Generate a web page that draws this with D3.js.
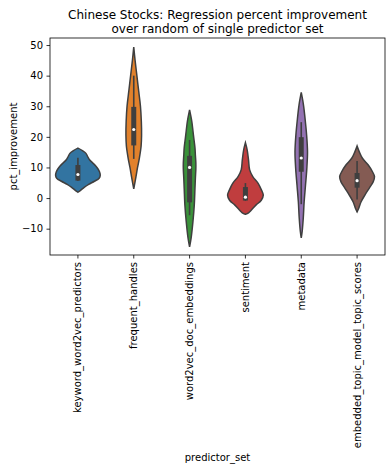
<!DOCTYPE html>
<head>
    <meta charset="utf-8">
    <title>Chinese Stocks violin</title>
    <style>
        body { margin: 0; background: #fff; }
        text { font-family: "DejaVu Sans", sans-serif; }
    </style>
</head>
<body>

<svg width="392" height="470"></svg>

<script src="https://cdn.jsdelivr.net/npm/d3@7"></script>
<script>

    var categories = ["keyword_word2vec_predictors", "frequent_handles", "word2vec_doc_embeddings",
                      "sentiment", "metadata", "embedded_topic_model_topic_scores"];

    var colors = ["#3274a1", "#e1812c", "#3a923a", "#c03d3e", "#9372b2", "#845b53"];

    // density outline per category: [pct_improvement, relative half width]
    var profKeyword = [[16.3,0],[15.5,0.2],[14.6,0.36],[13.5,0.44],[12.5,0.52],[11.5,0.66],[10.5,0.8],
                       [9.5,0.9],[8.5,0.97],[7.5,1],[6.5,0.95],[5.5,0.74],[4.5,0.48],[3.5,0.28],[2.6,0.13],[1.9,0]];
    var profHandles = [[49.3,0],[45,0.06],[40,0.14],[35,0.22],[30,0.3],[25,0.34],[20.5,0.35],[17,0.33],
                       [13,0.25],[10,0.17],[7,0.1],[3,0]];
    var profDocEmb  = [[28.8,0],[25,0.1],[22,0.15],[19.5,0.19],[16.5,0.24],[14,0.26],[11.5,0.28],[9.5,0.28],
                       [6.5,0.26],[3,0.24],[-2.3,0.21],[-7.7,0.15],[-13,0.07],[-15.9,0]];
    var profSentiment = [[18.1,0],[15.7,0.08],[12.4,0.14],[9.2,0.19],[7,0.33],[4.8,0.57],[2.6,0.72],[1,0.8],
                         [-0.7,0.71],[-2.3,0.47],[-3.9,0.27],[-4.8,0.14],[-5.3,0]];
    var profMetadata = [[34.5,0],[30.4,0.1],[26,0.17],[20.6,0.24],[15.1,0.28],[9.7,0.25],[4.2,0.19],
                        [-1.2,0.13],[-6.6,0.09],[-11,0.04],[-13,0]];
    var profTopic = [[17,0],[15.1,0.1],[13,0.24],[10.8,0.5],[8.6,0.69],[7,0.78],[5.3,0.72],[3.2,0.54],
                     [1,0.35],[-1.2,0.18],[-3.4,0.07],[-4.5,0]];

    var profiles = [profKeyword, profHandles, profDocEmb, profSentiment, profMetadata, profTopic];

    // inner box: whisker low, q1, median, q3, whisker high
    var whiskLow  = [5.6, 12.8, -5.6, -0.9, -2, -0.5];
    var q1        = [5.7, 17.2, -1.4, -0.8, 8.6, 3.4];
    var medians   = [7.7, 22.4, 10, 0.3, 13.1, 5.7];
    var q3        = [10.8, 29.8, 13.8, 3.6, 19.9, 8.2];
    var whiskHigh = [13.2, 40, 19, 4.9, 24.8, 12.1];

    var yTicks = [-10, 0, 10, 20, 30, 40, 50];

    var svg = d3.select("svg"),
        margin = {top: 38, right: 7, bottom: 215, left: 50},
        width = +svg.attr("width") - margin.left - margin.right,
        height = +svg.attr("height") - margin.top - margin.bottom;

    var gray = "#3f3f3f";

    var x = d3.scaleBand()
        .domain(categories)
        .range([0, width]);

    var y = d3.scaleLinear()
        .domain([-18.6, 52.3])
        .range([height, 0]);

    var w = d3.scaleLinear()
        .domain([0, 1])
        .range([0, x.bandwidth() * 0.4]);

    var g = svg.append("g")
        .attr("transform", "translate(" + margin.left + "," + margin.top + ")");

    var violins = g.selectAll(".violin")
        .data(categories)
        .enter().append("g")
            .attr("class", "violin")
            .attr("transform", function(d) { return "translate(" + (x(d) + x.bandwidth() / 2) + ",0)"; });

    var area = d3.area()
        .y(function(d) { return y(d[0]); })
        .x0(function(d) { return -w(d[1]); })
        .x1(function(d) { return w(d[1]); })
        .curve(d3.curveCatmullRom);

    violins.append("path")
        .attr("d", function(d, i) { return area(profiles[i]); })
        .attr("fill", function(d, i) { return colors[i]; })
        .attr("stroke", gray)
        .attr("stroke-width", 1.5);

    // whisker line
    violins.append("line")
        .attr("y1", function(d, i) { return y(whiskLow[i]); })
        .attr("y2", function(d, i) { return y(whiskHigh[i]); })
        .attr("stroke", gray)
        .attr("stroke-width", 1.6);

    // box
    violins.append("line")
        .attr("y1", function(d, i) { return y(q1[i]); })
        .attr("y2", function(d, i) { return y(q3[i]); })
        .attr("stroke", gray)
        .attr("stroke-width", 5);

    violins.append("circle")
        .attr("cy", function(d, i) { return y(medians[i]); })
        .attr("r", 1.6)
        .attr("fill", "#fff");

    // axes
    var yAxis = g.append("g")
        .call(d3.axisLeft(y).tickValues(yTicks).tickSize(3.5).tickPadding(3.5).tickFormat(function(d) { return d < 0 ? "\u2212" + (-d) : d; }));

    var xAxis = g.append("g")
        .attr("transform", "translate(0," + height + ")")
        .call(d3.axisBottom(x).tickSize(3.5).tickPadding(3.5));

    [yAxis, xAxis].forEach(function(a) {
        a.select(".domain").remove();
        a.selectAll("line").attr("stroke", "#000").attr("stroke-width", 0.8);
        a.selectAll("text").attr("font-size", 10).attr("fill", "#000")
            .style("font-family", "DejaVu Sans, sans-serif");
    });

    xAxis.selectAll("text")
        .attr("transform", "rotate(-90)")
        .attr("x", -7)
        .attr("y", 0)
        .attr("dy", "0.35em")
        .attr("text-anchor", "end");

    // frame
    g.append("rect")
        .attr("width", width)
        .attr("height", height)
        .attr("fill", "none")
        .attr("stroke", "#000")
        .attr("stroke-width", 0.8);

    svg.append("text")
        .attr("x", margin.left + width / 2)
        .attr("y", 19)
        .attr("text-anchor", "middle")
        .attr("font-size", 12)
        .text("Chinese Stocks: Regression percent improvement");

    svg.append("text")
        .attr("x", margin.left + width / 2)
        .attr("y", 33)
        .attr("text-anchor", "middle")
        .attr("font-size", 12)
        .text("over random of single predictor set");

    svg.append("text")
        .attr("transform", "translate(" + 17 + "," + (margin.top + height / 2) + ") rotate(-90)")
        .attr("text-anchor", "middle")
        .attr("font-size", 10)
        .text("pct_improvement");

    svg.append("text")
        .attr("x", margin.left + width / 2)
        .attr("y", 461)
        .attr("text-anchor", "middle")
        .attr("font-size", 10)
        .text("predictor_set");

</script>

</body>
